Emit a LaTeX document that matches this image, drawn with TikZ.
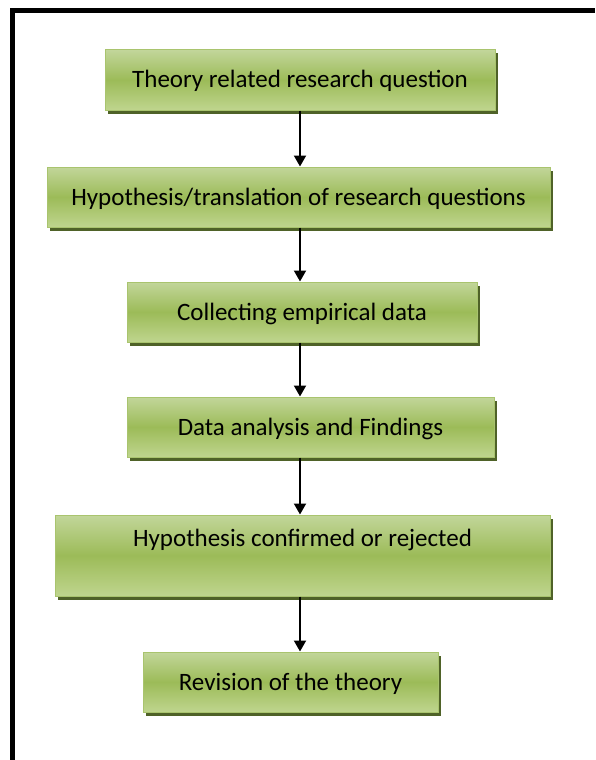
\documentclass[tikz,border=0pt]{standalone}
\usepackage{fontspec}
\setmainfont{Carlito}
\usetikzlibrary{positioning,shadows,arrows.meta}
\definecolor{boxtop}{HTML}{C2D69A}
\definecolor{boxmid}{HTML}{9CBB58}
\definecolor{boxbot}{HTML}{BFD58E}
\definecolor{boxedge}{HTML}{A9C46E}
\definecolor{boxshadow}{HTML}{4F6228}

\begin{document}
\begin{tikzpicture}[
    x=1pt, y=-1pt,
    box/.style={rectangle, draw=boxedge, line width=1pt, top color=boxtop, bottom color=boxbot, middle color=boxmid,
        drop shadow={shadow xshift=3pt, shadow yshift=-3.5pt, fill=boxshadow, opacity=1},
        inner xsep=0pt, inner ysep=0pt, text height=38pt, text depth=22pt,
        font=\fontsize{25pt}{30pt}\selectfont, text=black, text centered},
    arrow/.style={->, >={Triangle[width=12pt,length=11pt]}, line width=2pt}
]
    \useasboundingbox (0,0) rectangle (595,760);

    % Frame
    \draw[line width=5pt] (12.5,760) -- (12.5,10.5) -- (595,10.5);

    % Steps
    \node[box, minimum width=390pt] (question) at (300,80) {Theory related research question};
    \node[box, minimum width=503pt] (hypothesis) at (298.5,197) {Hypothesis/translation of research questions};
    \node[box, minimum width=350pt] (collect) at (302,312) {Collecting empirical data};
    \node[box, minimum width=367pt] (analysis) at (310.5,427) {Data analysis and Findings};
    \node[box, minimum width=495pt, text height=31pt, text depth=50pt] (outcome) at (302.5,555.5) {Hypothesis confirmed or rejected};
    \node[box, minimum width=295pt] (revision) at (290.5,682) {Revision of the theory};

    % Arrows
    \coordinate (spine) at (300,0);
    \draw[arrow] (question.south -| spine) -- (hypothesis.north -| spine);
    \draw[arrow] (hypothesis.south -| spine) -- (collect.north -| spine);
    \draw[arrow] (collect.south -| spine) -- (analysis.north -| spine);
    \draw[arrow] (analysis.south -| spine) -- (outcome.north -| spine);
    \draw[arrow] (outcome.south -| spine) -- (revision.north -| spine);
\end{tikzpicture}
\end{document}
